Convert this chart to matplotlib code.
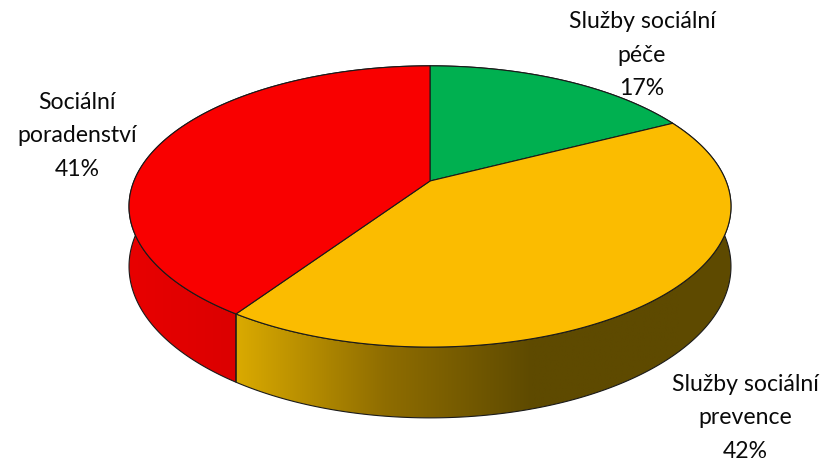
import numpy as np
import matplotlib
matplotlib.use("Agg")
import matplotlib.pyplot as plt
from matplotlib.patches import Polygon
from matplotlib.colors import LinearSegmentedColormap

# ---- data ----
categories = ["Služby sociální\npéče", "Služby sociální\nprevence", "Sociální\nporadenství"]
values = [17.4, 42.0, 40.6]          # shares, shown rounded as 17 %, 42 %, 41 %
top_colors = ["#00B050", "#FBBC00", "#F90000"]
side_grad = [["#009040", "#006030"],
             ["#DAAA00", "#8F6D00", "#5E4A00", "#5E4A00"],
             ["#E80000", "#C40000"]]

# ---- geometry (pixel space) ----
W, H = 832, 463
cx, cy = 430, 181          # apex of the pie on screen
rx, ry = 296, 136
k = 0.181                  # perspective strength
hs = 58                    # thickness

def proj(theta):
    # theta: clockwise from 12 o'clock
    X = np.sin(theta)
    Y = -np.cos(theta)
    w = 1 - k * Y
    return cx + rx * X / w, cy + ry * Y / w, w

fig = plt.figure(figsize=(W / 100, H / 100), dpi=100)
ax = fig.add_axes([0, 0, 1, 1])
ax.set_xlim(0, W)
ax.set_ylim(H, 0)
ax.axis("off")

fr = np.array(values, dtype=float) / sum(values)
bounds = np.concatenate([[0], np.cumsum(fr)]) * 2 * np.pi

# side walls
for i in range(len(values)):
    t = np.linspace(bounds[i], bounds[i + 1], 300)
    x, y, w = proj(t)
    yb = y + hs / w
    pts = np.column_stack([np.concatenate([x, x[::-1]]),
                           np.concatenate([y, yb[::-1]])])
    poly = Polygon(pts, closed=True, facecolor="none", edgecolor="#1a1a1a",
                   lw=0.8, zorder=3)
    ax.add_patch(poly)
    cmap = LinearSegmentedColormap.from_list("g%d" % i, side_grad[i])
    grad = np.linspace(0, 1, 256)[None, :]
    x1 = 680 if i == 1 else x.max()
    im = ax.imshow(grad, cmap=cmap, extent=(x.min(), x1, yb.max() + 2, y.min() - 2),
                   aspect="auto", zorder=2, interpolation="bilinear")
    im.set_clip_path(poly)
    if i == 1:
        im2 = ax.imshow(np.zeros((1, 2)),
                        cmap=LinearSegmentedColormap.from_list("d", ["#5E4A00", "#5E4A00"]),
                        extent=(x1 - 1, x.max() + 2, yb.max() + 2, y.min() - 2),
                        aspect="auto", zorder=2)
        im2.set_clip_path(poly)

# top faces
for i in range(len(values)):
    t = np.linspace(bounds[i], bounds[i + 1], 300)
    x, y, w = proj(t)
    pts = np.column_stack([np.concatenate([[cx], x]), np.concatenate([[cy], y])])
    ax.add_patch(Polygon(pts, closed=True, facecolor=top_colors[i],
                         edgecolor="#1a1a1a", lw=0.8, zorder=4))

# labels
font = ["Lato", "DejaVu Sans"]
labels = [f"{c}\n{v:.0f}%" for c, v in zip(categories, values)]
label_pos = [(642, 55), (745, 418), (77, 136)]
for lab, (lx, ly) in zip(labels, label_pos):
    ax.text(lx, ly, lab, ha="center", va="center", fontsize=16.6,
            family=font, linespacing=1.74, color="#0a0a0a", zorder=5)

fig.savefig("out.png", dpi=100)
